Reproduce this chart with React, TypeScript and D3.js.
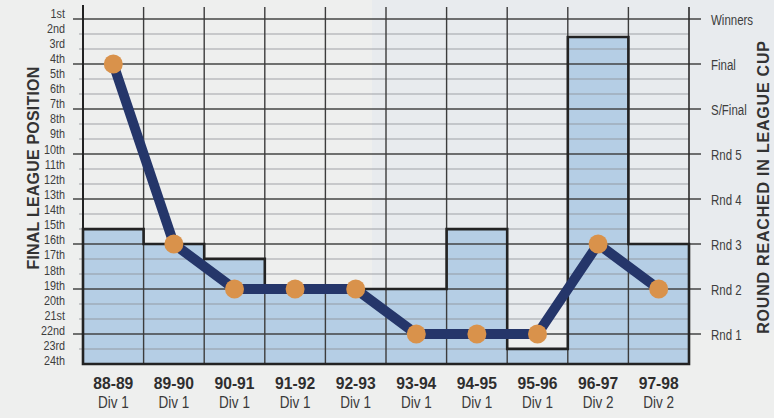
import React, { useEffect, useRef } from 'react';
import * as d3 from 'd3';

// Season labels and division played in
const seasons = ['88-89', '89-90', '90-91', '91-92', '92-93', '93-94', '94-95', '95-96', '96-97', '97-98'];
const divisions = ['Div 1', 'Div 1', 'Div 1', 'Div 1', 'Div 1', 'Div 1', 'Div 1', 'Div 1', 'Div 2', 'Div 2'];

// Final league position (line + dots)
const leaguePosition = [4, 16, 19, 19, 19, 22, 22, 22, 16, 19];

// Round reached in league cup (bars), 1 = Rnd 1 ... 8 = Winners
const cupRound = [3.33, 3, 2.67, 2, 2, 2, 3.33, 0.67, 7.6, 3];

const positionLabels = [
  '1st', '2nd', '3rd', '4th', '5th', '6th', '7th', '8th', '9th', '10th', '11th', '12th',
  '13th', '14th', '15th', '16th', '17th', '18th', '19th', '20th', '21st', '22nd', '23rd', '24th',
];
const roundLabels = ['Rnd 1', 'Rnd 2', 'Rnd 3', 'Rnd 4', 'Rnd 5', 'S/Final', 'Final', 'Winners'];

const font = "'Liberation Sans', Arial, sans-serif";

const LeagueChart: React.FC = () => {
  const ref = useRef<SVGSVGElement | null>(null);

  useEffect(() => {
    if (!ref.current) return;
    document.body.style.margin = '0';
    const width = 774;
    const height = 418;

    const svg = d3.select(ref.current);
    svg.selectAll('*').remove();
    svg.attr('width', width).attr('height', height);

    const left = 83;
    const right = 689;

    const x = d3.scaleBand<string>().domain(seasons).range([left, right]).padding(0);
    const yPos = d3.scaleLinear().domain([1, 24]).range([19, 364]);
    // cup rounds sit on every third league line: Winners = 1st, Rnd 1 = 22nd
    const yRound = d3.scaleLinear().domain([1, 8]).range([yPos(22), yPos(1)]);
    const bottom = yPos(24);

    // condensed text: no narrow face installed, so squeeze horizontally
    const narrowText = (tx: number, ty: number, label: string, size: number, anchor: string, sx = 0.8) =>
      svg.append('text')
        .attr('transform', `translate(${tx},${ty}) scale(${sx},1)`)
        .attr('text-anchor', anchor)
        .style('font-family', font)
        .style('font-size', `${size}px`)
        .style('fill', '#3d3d3d')
        .text(label);

    // paper background
    svg.append('rect').attr('width', width).attr('height', height).attr('fill', '#eeefee');
    svg.append('rect')
      .attr('x', 372).attr('y', 0).attr('width', 402).attr('height', 330)
      .attr('fill', '#dde6ee').attr('opacity', 0.35);

    // bars (fill)
    seasons.forEach((s, i) => {
      svg.append('rect')
        .attr('x', x(s)!)
        .attr('y', yRound(cupRound[i]))
        .attr('width', x.bandwidth())
        .attr('height', bottom - yRound(cupRound[i]))
        .attr('fill', '#b5cee5');
    });

    // horizontal grid
    const positions = d3.range(1, 24);
    positions.forEach(p => {
      const major = (p - 1) % 3 === 0;
      svg.append('line')
        .attr('x1', major ? 73 : 79)
        .attr('x2', major ? 701 : right)
        .attr('y1', yPos(p))
        .attr('y2', yPos(p))
        .attr('stroke', major ? '#3c3c3c' : '#8c8f93')
        .attr('stroke-width', major ? 1.5 : 1)
        .attr('stroke-opacity', major ? 0.95 : 0.8);
    });

    // vertical grid
    seasons.forEach(s => {
      svg.append('line')
        .attr('x1', x(s)!).attr('x2', x(s)!)
        .attr('y1', 7).attr('y2', bottom)
        .attr('stroke', '#3c3c3c').attr('stroke-width', 1.4);
    });
    svg.append('line')
      .attr('x1', right).attr('x2', right)
      .attr('y1', 7).attr('y2', bottom)
      .attr('stroke', '#2a2a2a').attr('stroke-width', 1.6);
    svg.append('line')
      .attr('x1', left).attr('x2', left)
      .attr('y1', 5).attr('y2', bottom)
      .attr('stroke', '#222').attr('stroke-width', 2);

    // step outline of the bars
    const pts: [number, number][] = [[left, bottom]];
    seasons.forEach((s, i) => {
      const yv = yRound(cupRound[i]);
      pts.push([x(s)!, yv]);
      pts.push([x(s)! + x.bandwidth(), yv]);
    });
    pts.push([right, bottom]);
    svg.append('path')
      .attr('d', d3.line()(pts) + 'Z')
      .attr('fill', 'none')
      .attr('stroke', '#232323')
      .attr('stroke-width', 2.6)
      .attr('stroke-linejoin', 'miter');

    // league position line
    const cx = (i: number) => x(seasons[i])! + x.bandwidth() / 2;
    const line = d3.line<number>()
      .x((_, i) => cx(i))
      .y(d => yPos(d));
    svg.append('path')
      .datum(leaguePosition)
      .attr('d', line)
      .attr('fill', 'none')
      .attr('stroke', '#25366a')
      .attr('stroke-width', 10)
      .attr('stroke-linejoin', 'round');

    svg.selectAll('.dot')
      .data(leaguePosition)
      .enter()
      .append('circle')
      .attr('class', 'dot')
      .attr('cx', (_, i) => cx(i))
      .attr('cy', d => yPos(d))
      .attr('r', 9.5)
      .attr('fill', '#d9924b');

    // left axis labels
    positionLabels.forEach((lab, i) => {
      narrowText(65, yPos(i + 1) - 1.5 + i * 0.12, lab, 13.5, 'end');
    });

    // right axis labels
    roundLabels.forEach((lab, i) => {
      narrowText(711, yRound(i + 1) + 6, lab, 14, 'start', 0.82);
    });

    // season labels
    seasons.forEach((s, i) => {
      svg.append('text')
        .attr('transform', `translate(${cx(i)},389) scale(0.95,1)`)
        .attr('text-anchor', 'middle')
        .style('font-family', font)
        .style('font-weight', 'bold')
        .style('font-size', '16.5px')
        .style('fill', '#2e2e2e')
        .text(s);
      narrowText(cx(i), 408, divisions[i], 16.5, 'middle', 0.82).style('fill', '#3a3a3a');
    });

    // axis titles
    svg.append('text')
      .attr('transform', 'translate(39,168) rotate(-90)')
      .attr('text-anchor', 'middle')
      .style('font-family', font)
      .style('font-weight', 'bold')
      .style('font-size', '16px')
      .style('letter-spacing', '0.2px')
      .style('fill', '#333')
      .text('FINAL LEAGUE POSITION');

    svg.append('text')
      .attr('transform', 'translate(769,187) rotate(-90)')
      .attr('text-anchor', 'middle')
      .style('font-family', font)
      .style('font-weight', 'bold')
      .style('font-size', '16px')
      .style('letter-spacing', '0.8px')
      .style('fill', '#333')
      .text('ROUND REACHED IN LEAGUE CUP');
  }, []);

  return <svg ref={ref} style={{ display: 'block' }}></svg>;
};

export default function App() {
  return <LeagueChart />;
}
